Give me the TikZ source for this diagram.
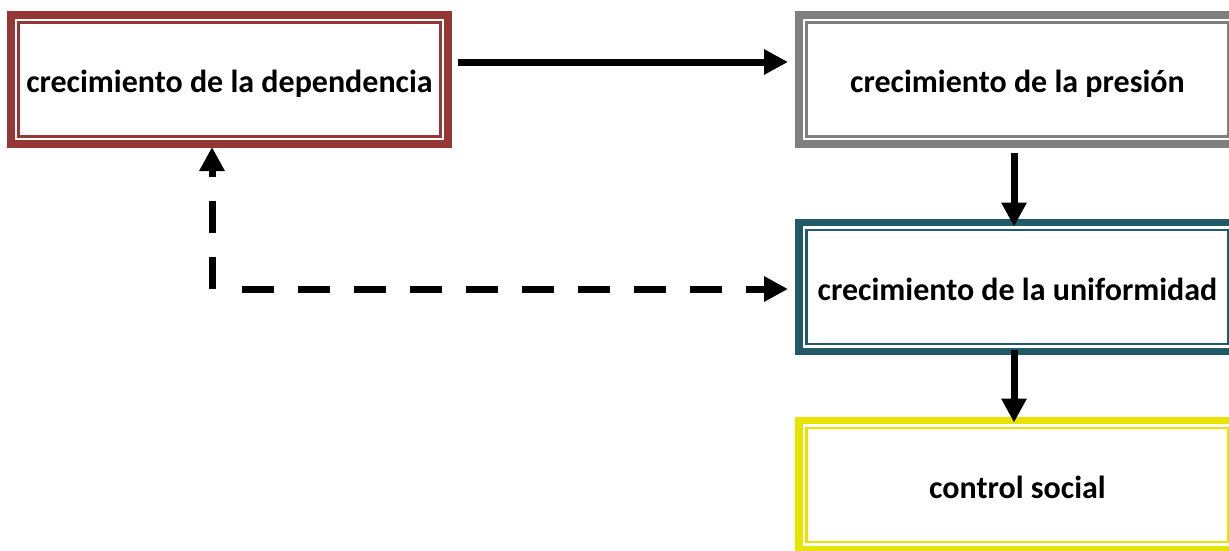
\documentclass[tikz,border=0pt]{standalone}
\usepackage{fontspec}
\setmainfont{Carlito}
\usetikzlibrary{arrows.meta}
\definecolor{cred}{HTML}{953735}
\definecolor{cgray}{HTML}{7F7F7F}
\definecolor{cteal}{HTML}{215968}
\definecolor{cyellow}{HTML}{E8E400}
\tikzset{
 box/.style={rectangle, draw=#1, line width=7.5pt, fill=white,
   minimum width=437pt, minimum height=129pt, inner sep=0pt, outer sep=0pt,
   text height=26pt, text depth=0pt, font=\fontsize{32}{38}\selectfont\bfseries,
   path picture={\draw[#1, line width=2.2pt]
     ([shift={(7.5pt,-7.5pt)}]path picture bounding box.north west) rectangle
     ([shift={(-7.5pt,7.5pt)}]path picture bounding box.south east);}},
 conn/.style={line width=7pt, -{Triangle[length=24pt,width=24pt]}},
 dconn/.style={conn, dash pattern=on 32pt off 24pt},
}
\begin{document}
\begin{tikzpicture}[x=1pt, y=-1pt]
\useasboundingbox (0,0) rectangle (1229,550);
\clip (0,0) rectangle (1229,550);
\fill[white] (0,0) rectangle (1229,550);
\node[box=cred] (d) at (229.5,79.5) {crecimiento de la dependencia};
\node[box=cgray] (p) at (1017.5,79.5) {crecimiento de la presión};
\node[box=cteal] (u) at (1017.5,287) {crecimiento de la uniformidad};
\node[box=cyellow] (s) at (1017.5,485) {control social};
\draw[conn, shorten <=10pt, shorten >=11pt] ([yshift=17.5pt]d.east) -- ([yshift=17.5pt]p.west);
\draw[conn, shorten <=9pt, shorten >=-4pt] ([xshift=-3.5pt]p.south) -- ([xshift=-3.5pt]u.north);
\draw[conn, shorten <=-2pt, shorten >=-2pt] ([xshift=-3.5pt]u.south) -- ([xshift=-3.5pt]s.north);
\coordinate (c) at (212,289);
\coordinate (h) at (218,289);
\draw[dconn, shorten >=3pt] (c) -- (d.south -| c);
\draw[dconn, dash phase=32pt, shorten >=11pt] (h) -- (u.west |- h);
\end{tikzpicture}
\end{document}
